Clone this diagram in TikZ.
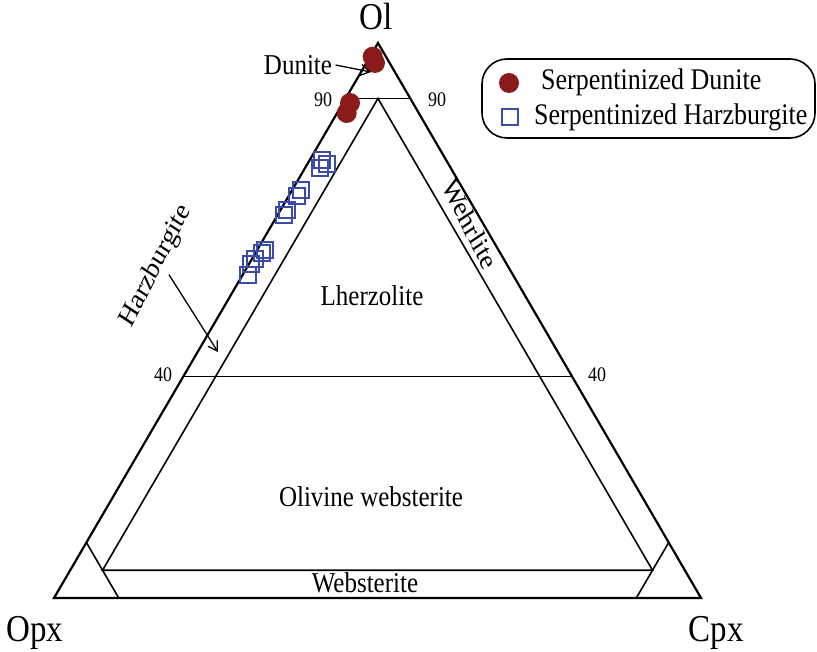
\documentclass[tikz,border=0pt]{standalone}
\usepackage{fontspec}
\setmainfont{Liberation Serif}
\usetikzlibrary{arrows.meta}

\definecolor{dunred}{RGB}{139,26,26}
\definecolor{harzblue}{RGB}{58,75,168}

\tikzset{
  rimline/.style={line width=2.2pt},
  fieldline/.style={line width=1.6pt},
  fortyline/.style={line width=0.9pt},
  dunitept/.style={circle, fill=dunred, minimum size=20pt, inner sep=0pt},
  harzpt/.style={rectangle, draw=harzblue, line width=2.2pt, minimum size=16pt, inner sep=0pt},
  tall/.style={yscale=1.15},
  endlabel/.style={tall, font=\fontsize{33}{36}\selectfont},
  rocklabel/.style={tall, font=\fontsize{25}{28}\selectfont},
  ticklabel/.style={tall, font=\fontsize{18}{20}\selectfont},
  legendtext/.style={tall, font=\fontsize{26}{28}\selectfont, inner sep=0pt},
  pointer/.style={line width=1.3pt, -{Straight Barb[length=9pt,width=11pt]}}
}

\begin{document}
\begin{tikzpicture}[x=1pt,y=-1pt]
\useasboundingbox (0,0) rectangle (817,652);

\coordinate (ol)  at (378,43);
\coordinate (opx) at (54,598);
\coordinate (cpx) at (701,598);

% triangle and field boundaries
\draw [rimline] (ol) -- (opx) -- (cpx) -- cycle;
\draw [fieldline] (barycentric cs:ol=.9,opx=.1) -- (barycentric cs:ol=.9,cpx=.1);
\draw [fortyline] (barycentric cs:ol=.4,opx=.6) -- (barycentric cs:ol=.4,cpx=.6);
\draw [fieldline] (barycentric cs:ol=.9,opx=.05,cpx=.05)
   -- (barycentric cs:ol=.05,opx=.9,cpx=.05)
   -- (barycentric cs:ol=.05,opx=.05,cpx=.9) -- cycle;
\draw [fieldline] (barycentric cs:ol=.1,opx=.9) -- (barycentric cs:opx=.9,cpx=.1);
\draw [fieldline] (barycentric cs:ol=.1,cpx=.9) -- (barycentric cs:opx=.1,cpx=.9);

% samples
\foreach \x/\y [count=\i] in {372.7/56.7, 375/63, 350/103, 346.7/113}
  \node (dun\i) [dunitept] at (\x,\y) {};
\foreach \x/\y [count=\i] in {322/160, 327/164, 320/168, 301/190, 297/196,
    287/210, 284/215, 265/250, 262/253, 255/259, 251/264, 248/275}
  \node (hz\i) [harzpt] at (\x,\y) {};

% end members and ticks
\draw (376,30)  node (lol)  [endlabel, anchor=base] {Ol};
\draw (35,641)  node (lopx) [endlabel, anchor=base] {Opx};
\draw (716,641) node (lcpx) [endlabel, anchor=base] {Cpx};
\draw (323,100) node (n90l) [ticklabel] {90};
\draw (437,100) node (n90r) [ticklabel] {90};
\draw (163,375) node (n40l) [ticklabel] {40};
\draw (597,375) node (n40r) [ticklabel] {40};

% rock names
\draw (372,296) node (lherz) [rocklabel] {Lherzolite};
\draw (371,497) node (olweb) [rocklabel] {Olivine websterite};
\draw (365,583) node (web)   [rocklabel] {Websterite};
\draw (470,224) node (wehr)  [rocklabel, rotate=-60] {Wehrlite};
\draw (156,266) node (harz)  [rocklabel, rotate=60] {Harzburgite};
\draw (298,65)  node (dunl)  [rocklabel] {Dunite};

\coordinate (dunend) at (371,72);
\coordinate (harzend) at (218,352);
\draw [pointer] (dunl.east) -- (dunend);
\draw [pointer] (harz.south) -- (harzend);

% legend
\draw (648.5,98.5) node (legbox) [draw, line width=1.6pt, rounded corners=25pt,
   minimum width=333pt, minimum height=79pt] {};
\draw (509,83)  node (legdot) [dunitept] {};
\draw (510,117) node (legsq)  [harzpt] {};
\draw (541,90)  node (legdun) [legendtext, anchor=base west] {Serpentinized Dunite};
\draw (534,125) node (leghz)  [legendtext, anchor=base west] {Serpentinized Harzburgite};
\end{tikzpicture}
\end{document}
